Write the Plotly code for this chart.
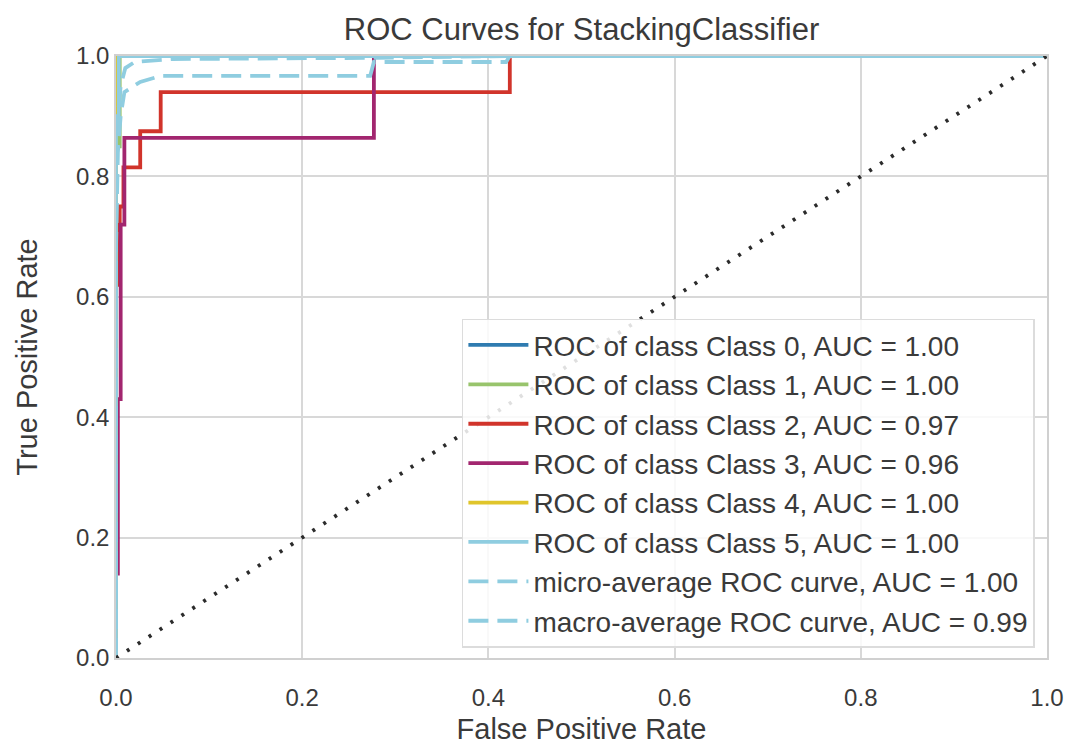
import plotly.graph_objects as go

# ROC curves per class (false positive rate, true positive rate)
class_names = ["Class 0", "Class 1", "Class 2", "Class 3", "Class 4", "Class 5"]
class_auc = [1.00, 1.00, 0.97, 0.96, 1.00, 1.00]

fpr_c0 = [0.0, 0.0, 1.0]
tpr_c0 = [0.0, 1.0, 1.0]

fpr_c1 = [0.0, 0.0, 0.004, 0.004, 1.0]
tpr_c1 = [0.0, 0.85, 0.85, 1.0, 1.0]

fpr_c2 = [0.0, 0.0, 0.004, 0.004, 0.008, 0.008, 0.026, 0.026, 0.048, 0.048, 0.423, 0.423, 1.0]
tpr_c2 = [0.0, 0.62, 0.62, 0.75, 0.75, 0.815, 0.815, 0.875, 0.875, 0.94, 0.94, 1.0, 1.0]

fpr_c3 = [0.0, 0.0, 0.002, 0.002, 0.005, 0.005, 0.009, 0.009, 0.277, 0.277, 1.0]
tpr_c3 = [0.0, 0.14, 0.14, 0.43, 0.43, 0.72, 0.72, 0.864, 0.864, 1.0, 1.0]

fpr_c4 = [0.0, 0.0, 0.002, 0.002, 1.0]
tpr_c4 = [0.0, 0.97, 0.97, 1.0, 1.0]

fpr_c5 = [0.0, 0.0, 0.003, 0.003, 1.0]
tpr_c5 = [0.0, 0.9, 0.9, 1.0, 1.0]

fpr_micro = [0.0, 0.0, 0.002, 0.005, 0.01, 0.02, 0.06, 0.28, 0.42, 1.0]
tpr_micro = [0.0, 0.7, 0.9, 0.95, 0.98, 0.99, 0.995, 0.997, 1.0, 1.0]
auc_micro = 1.00

fpr_macro = [0.0, 0.0, 0.002, 0.005, 0.009, 0.026, 0.048, 0.273, 0.277, 0.419, 0.423, 1.0]
tpr_macro = [0.0, 0.68, 0.84, 0.9, 0.94, 0.957, 0.967, 0.967, 0.99, 0.99, 1.0, 1.0]
auc_macro = 0.99

class_fpr = [fpr_c0, fpr_c1, fpr_c2, fpr_c3, fpr_c4, fpr_c5]
class_tpr = [tpr_c0, tpr_c1, tpr_c2, tpr_c3, tpr_c4, tpr_c5]
class_colors = ["#2f7bb0", "#98c46c", "#d1342b", "#a2266f", "#e0c52b", "#8fcde0"]
avg_color = "#8fcde0"

FONT = "Liberation Sans, Arial, sans-serif"
TEXT = "#3a3a3a"

fig = go.Figure()

for i, name in enumerate(class_names):
    fig.add_trace(go.Scatter(
        x=class_fpr[i], y=class_tpr[i], mode="lines",
        line=dict(color=class_colors[i], width=3.8),
        name=f"ROC of class {name}, AUC = {class_auc[i]:.2f}",
        legendgroup=f"g{i}",
    ))

fig.add_trace(go.Scatter(
    x=fpr_micro, y=tpr_micro, mode="lines",
    line=dict(color=avg_color, width=3.8, dash="20px,9px"),
    name=f"micro-average ROC curve, AUC = {auc_micro:.2f}",
    legendgroup="micro",
))
fig.add_trace(go.Scatter(
    x=fpr_macro, y=tpr_macro, mode="lines",
    line=dict(color=avg_color, width=3.8, dash="20px,9px"),
    name=f"macro-average ROC curve, AUC = {auc_macro:.2f}",
    legendgroup="macro",
))

# chance diagonal
fig.add_trace(go.Scatter(
    x=[0, 1], y=[0, 1], mode="lines",
    line=dict(color="#2b2b2b", width=3.8, dash="3px,10px"),
    showlegend=False, hoverinfo="skip",
))

axis_common = dict(
    range=[0, 1], dtick=0.2, tickformat=".1f", automargin=False,
    showgrid=True, gridcolor="#d8d8d8", gridwidth=1.5,
    showline=True, linecolor="#d0d0d0", linewidth=1.5, mirror=True,
    zeroline=False, tickcolor="rgba(0,0,0,0)",
    tickfont=dict(family=FONT, size=24, color=TEXT),
)

fig.update_layout(
    width=1067, height=745,
    margin=dict(l=116, r=20, t=56, b=87),
    paper_bgcolor="white", plot_bgcolor="white",
    title=dict(text="ROC Curves for StackingClassifier", x=0.5, xref="paper",
               y=0.961, yanchor="middle", automargin=False,
               font=dict(family=FONT, size=31, color=TEXT)),
    xaxis=dict(axis_common, ticks="outside", ticklen=17,
               title=dict(text="False Positive Rate", standoff=11,
                          font=dict(family=FONT, size=29, color=TEXT))),
    yaxis=dict(axis_common, ticks="", ticklen=0,
               title=dict(text="True Positive Rate", standoff=30,
                          font=dict(family=FONT, size=29, color=TEXT))),
    legend=dict(
        x=0.987, xanchor="right", y=0.017, yanchor="bottom",
        bgcolor="rgba(255,255,255,0.85)", bordercolor="#dcdcdc", borderwidth=1.5,
        font=dict(family=FONT, size=28, color=TEXT),
        tracegroupgap=0, itemwidth=60,
    ),
    showlegend=True,
)

fig.write_html("out.html")
